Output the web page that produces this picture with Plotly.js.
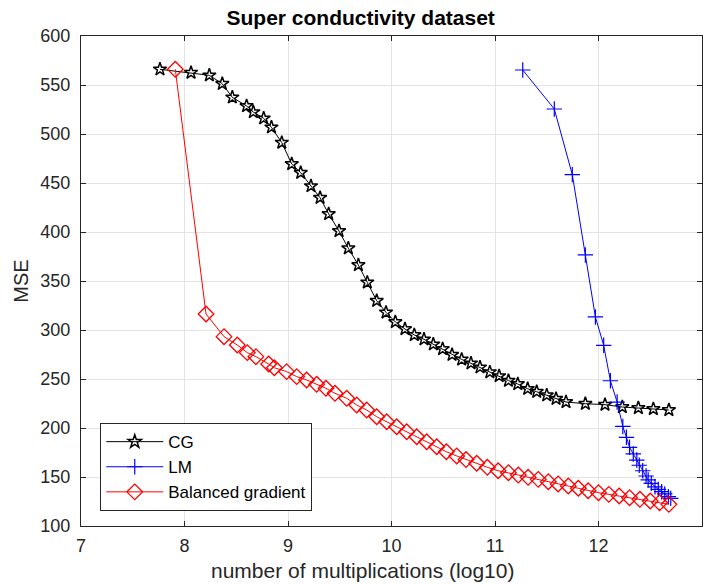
<!DOCTYPE html>
<html>
<head>
<meta charset="utf-8">
<script src="https://cdn.plot.ly/plotly-3.0.1.min.js"></script>
<style>html,body{margin:0;padding:0;background:#fff;}#chart{width:710px;height:584px;}</style>
</head>
<body>
<div id="chart"></div>
<script>
const cgX = [7.763, 8.063, 8.24, 8.365, 8.462, 8.60, 8.665, 8.765, 8.84, 8.94, 9.036, 9.123, 9.222, 9.31, 9.393, 9.493, 9.583, 9.68, 9.766, 9.857, 9.947, 10.037, 10.13, 10.22, 10.314, 10.404, 10.494, 10.585, 10.678, 10.768, 10.855, 10.95, 11.04, 11.13, 11.22, 11.316, 11.403, 11.5, 11.59, 11.686, 11.873, 12.063, 12.23, 12.385, 12.53, 12.68];
const cgY = [566, 562.6, 559.9, 551.3, 537.4, 528.6, 522.4, 516, 506.8, 491.2, 469.4, 460.5, 446.9, 435, 418.4, 401, 383.4, 366.3, 348.6, 329.9, 318, 308.2, 301, 294.9, 290.5, 285.4, 280.6, 274.8, 270, 266, 261.9, 257, 253, 248.3, 244.9, 240, 237, 233.4, 229.9, 226.5, 224.8, 223.8, 221.4, 220.4, 219.4, 218.4];

const lmX = [11.268, 11.573, 11.747, 11.873, 11.97, 12.05, 12.115, 12.18, 12.235, 12.27, 12.30, 12.336, 12.37, 12.394, 12.427, 12.46, 12.48, 12.51, 12.546, 12.578, 12.61, 12.64, 12.675, 12.698];
const lmY = [565.3, 525.5, 458.5, 376.6, 313.3, 284.4, 248.2, 226.5, 201.6, 190.5, 180.3, 173.5, 167.3, 162, 156.4, 151, 147, 143.5, 140, 137.4, 135, 132.7, 130, 128.2];

const bgX = [7.911, 8.208, 8.382, 8.51, 8.607, 8.69, 8.813, 8.868, 8.987, 9.084, 9.18, 9.277, 9.367, 9.454, 9.567, 9.664, 9.76, 9.857, 9.954, 10.05, 10.147, 10.244, 10.34, 10.437, 10.53, 10.63, 10.72, 10.823, 10.926, 11.03, 11.13, 11.225, 11.32, 11.418, 11.515, 11.61, 11.708, 11.805, 11.9, 12.0, 12.1, 12.2, 12.3, 12.4, 12.5, 12.59, 12.68];
const bgY = [566, 316.3, 293.2, 284.7, 276.9, 272.8, 265.3, 261.5, 257.5, 252.4, 249, 244.6, 240.5, 235.4, 230.3, 223.5, 218.4, 211.5, 206.4, 201.3, 196.2, 191.1, 186, 180.9, 175.8, 171.5, 167.8, 164, 159.9, 156.4, 154.4, 152, 149.7, 147.6, 145.2, 142.9, 140.8, 138.5, 136, 134, 132.3, 130.6, 128.9, 127.2, 125.5, 123.8, 122.1];

const xTicks = [7, 8, 9, 10, 11, 12, 13];
const yTicks = [100, 150, 200, 250, 300, 350, 400, 450, 500, 550, 600];
const titleText = 'Super conductivity dataset';
const xLabel = 'number of multiplications (log10)';
const yLabel = 'MSE';

const traces = [
  {x: cgX, y: cgY, name: 'CG', mode: 'lines+markers', type: 'scatter',
   line: {color: '#000000', width: 1},
   marker: {symbol: 'star-open', size: 10, color: '#000000', line: {width: 1.5, color: '#000000'}}},
  {x: lmX, y: lmY, name: 'LM', mode: 'lines+markers', type: 'scatter',
   line: {color: '#0000ff', width: 1},
   marker: {symbol: 'cross-thin-open', size: 11, color: '#0000ff', line: {width: 1.2, color: '#0000ff'}}},
  {x: bgX, y: bgY, name: 'Balanced gradient', mode: 'lines+markers', type: 'scatter',
   line: {color: '#ff0000', width: 1},
   marker: {symbol: 'diamond-open', size: 12, color: '#ff0000', line: {width: 1.3, color: '#ff0000'}}}
];

const fontFam = 'Liberation Sans, Arial, Helvetica, sans-serif';
const layout = {
  width: 710, height: 584,
  margin: {l: 81, r: 8, t: 36, b: 58},
  paper_bgcolor: '#ffffff', plot_bgcolor: '#ffffff',
  font: {family: fontFam, size: 18, color: '#262626'},
  title: {text: '<b>' + titleText + '</b>', x: 0.508, xanchor: 'center', y: 0.97, yanchor: 'middle',
          font: {family: fontFam, size: 21, color: '#000000'}},
  xaxis: {range: [7, 13], tickvals: xTicks, ticktext: xTicks.map(String),
          showgrid: true, gridcolor: '#e3e3e3', gridwidth: 1, zeroline: false,
          showline: true, linecolor: '#262626', linewidth: 1, mirror: 'ticks',
          ticks: 'inside', ticklen: 5, tickcolor: '#262626',
          tickfont: {size: 18, color: '#262626'}, ticklabelstandoff: 3},
  yaxis: {range: [100, 600], tickvals: yTicks, ticktext: yTicks.map(String),
          showgrid: true, gridcolor: '#e3e3e3', gridwidth: 1, zeroline: false,
          showline: true, linecolor: '#262626', linewidth: 1, mirror: 'ticks',
          ticks: 'inside', ticklen: 5, tickcolor: '#262626',
          tickfont: {size: 18, color: '#262626'}, ticklabelstandoff: 6,
          title: {text: yLabel, font: {size: 20, color: '#262626'}, standoff: 6}},
  annotations: [
    {text: xLabel, xref: 'paper', yref: 'paper', x: 0.4525, y: -0.0898,
     xanchor: 'center', yanchor: 'middle', showarrow: false,
     font: {family: fontFam, size: 21, color: '#262626'}}
  ],
  legend: {x: 0.031, y: 0.21, xanchor: 'left', yanchor: 'top',
           bgcolor: '#ffffff', bordercolor: '#262626', borderwidth: 1,
           font: {size: 17, color: '#000000'}, tracegroupgap: 0, itemwidth: 57},
  showlegend: true
};

Plotly.newPlot('chart', traces, layout, {displayModeBar: false, staticPlot: true});
</script>
</body>
</html>
